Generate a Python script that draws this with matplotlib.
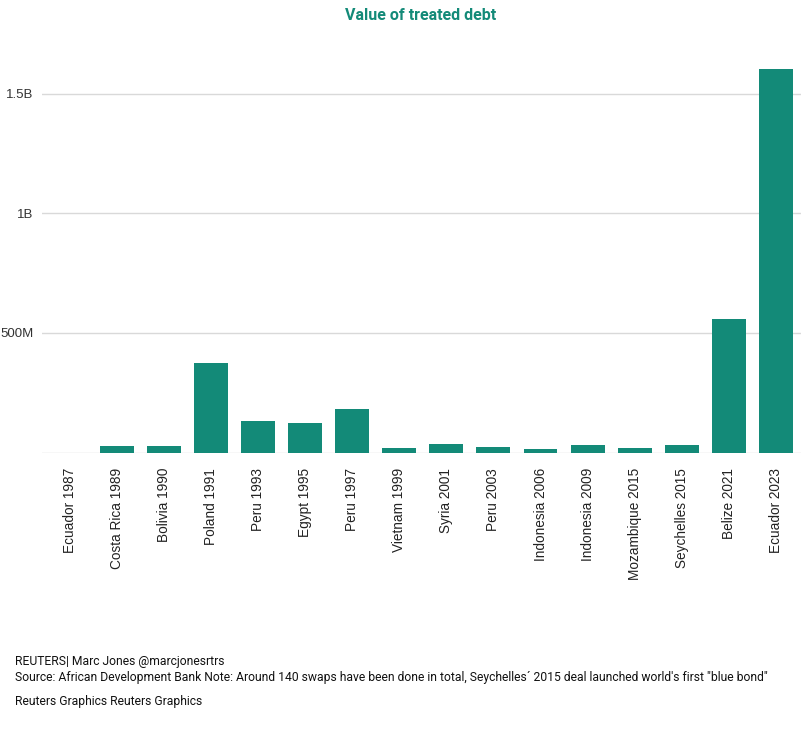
import numpy as np
import matplotlib.pyplot as plt
from matplotlib.ticker import FixedLocator

deals = ["Ecuador 1987", "Costa Rica 1989", "Bolivia 1990", "Poland 1991", "Peru 1993",
         "Egypt 1995", "Peru 1997", "Vietnam 1999", "Syria 2001", "Peru 2003",
         "Indonesia 2006", "Indonesia 2009", "Mozambique 2015", "Seychelles 2015",
         "Belize 2021", "Ecuador 2023"]
# value of treated debt, millions USD
values = [0, 27, 27, 374, 132, 123, 182, 19, 34, 24, 15, 31, 18, 31, 558, 1605]
ytick_vals = [500e6, 1000e6, 1500e6]
ytick_labels = ["500M", "1B", "1.5B"]

green = "#138a78"
plt.rcParams['font.family'] = ['Roboto', 'DejaVu Sans']

fig = plt.figure(figsize=(8.01, 7.47), dpi=100)
ax = fig.add_axes([42/801, 1 - 452.5/747, 1 - 42/801, (452.5 - 46)/747])

x = np.arange(len(deals))
ax.bar(x, np.array(values) * 1e6, width=0.72, color=green, zorder=3)

ax.set_xlim(-0.584, 15.53)
ax.set_ylim(0, 1.7e9)

for v in [0] + ytick_vals:
    ax.axhline(v, color="#d9d9d9", lw=1, zorder=1)

ax.yaxis.set_major_locator(FixedLocator(ytick_vals))
ax.set_yticklabels(ytick_labels, fontsize=9.5, color="#333333", family="Liberation Sans")
ax.tick_params(axis="y", length=0, pad=6)
ax.set_xticks(x)
ax.set_xticklabels(deals, rotation=90, fontsize=9.8, color="#222222", family="Liberation Sans")
ax.tick_params(axis="x", length=0, pad=11)
for s in ax.spines.values():
    s.set_visible(False)

fig.text(421/801, 1 - 15/747, "Value of treated debt", ha="center", va="center",
         fontsize=11.5, fontweight="bold", color=green)

fig.text(15/801, 1 - 661/747, "REUTERS| Marc Jones @marcjonesrtrs",
         fontsize=8.7, va="center", color="#111111")
fig.text(15/801, 1 - 677/747,
         "Source: African Development Bank Note: Around 140 swaps have been done in total, "
         "Seychelles\u00b4 2015 deal launched world's first \"blue bond\"",
         fontsize=8.7, va="center", color="#111111")
fig.text(15/801, 1 - 701/747, "Reuters Graphics Reuters Graphics",
         fontsize=8.7, va="center", color="#111111")

fig.savefig("out.png", dpi=100)
